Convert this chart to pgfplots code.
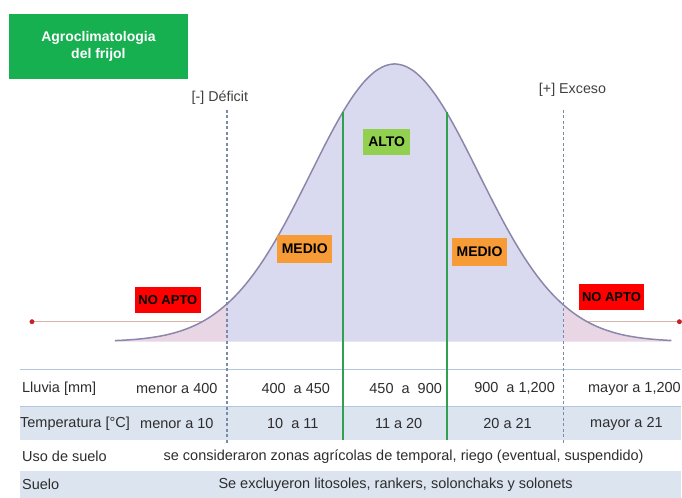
\documentclass[border=0pt]{standalone}
\usepackage{pgfplots}
\pgfplotsset{compat=1.18}
\usepackage{fontspec}
\setmainfont{Liberation Sans}
\definecolor{titlegreen}{RGB}{22,176,80}
\definecolor{midfill}{RGB}{217,217,240}
\definecolor{tailfill}{RGB}{232,214,228}
\definecolor{curvecol}{RGB}{140,135,170}
\definecolor{aptored}{RGB}{255,0,0}
\definecolor{medorange}{RGB}{247,155,55}
\definecolor{altogreen}{RGB}{146,208,80}
\definecolor{vgreen}{RGB}{50,160,80}
\definecolor{dashcol}{RGB}{120,140,170}
\definecolor{rowblue}{RGB}{220,228,240}
\definecolor{rowline}{RGB}{180,198,222}
\definecolor{pinkline}{RGB}{215,180,170}
\definecolor{dotred}{RGB}{200,30,40}
\definecolor{txt}{RGB}{45,45,45}
\begin{document}
\begin{tikzpicture}
\begin{axis}[
  scale only axis, width=682pt, height=498pt,
  xmin=0, xmax=682, ymin=-156, ymax=342,
  axis lines=none, clip=false,
  every node/.append style={text=txt},
]
% invisible frame so that the picture spans the whole area
\addplot[draw=none, mark=none] coordinates {(0,-156) (682,342)};
% table backgrounds
\addplot[draw=none, fill=rowblue] coordinates {(20,-65) (682,-65) (682,-98) (20,-98)} -- cycle;
\addplot[draw=none, fill=rowblue] coordinates {(20,-129) (682,-129) (682,-156) (20,-156)} -- cycle;
\addplot[rowline, line width=1.2pt] coordinates {(20,-28) (682,-28)};
\addplot[rowline, line width=1.2pt] coordinates {(20,-65) (682,-65)};
% horizontal pink lines
\addplot[pinkline, line width=1.4pt] coordinates {(32,20) (205,20)};
\addplot[pinkline, line width=1.4pt] coordinates {(586,20) (680,20)};
\addplot[only marks, mark=*, mark size=2.2pt, dotred] coordinates {(32,20) (680,20)};
% curve fills
\addplot[draw=none, fill=tailfill] coordinates {
(115,1.1) (125,1.6) (135,2.3) (145,3.3) (155,4.7) (165,6.5) (175,9.0) (185,12.2)
(195,16.3) (205,21.5) (215,28.0) (225,35.9) (227,37.6)} \closedcycle;
\addplot[draw=none, fill=midfill] coordinates {
(227,37.6) (235,45.3) (245,56.4) (255,69.3) (265,83.9) (275,100.2) (285,117.9)
(295,136.9) (305,156.6) (315,176.6) (325,196.5) (335,215.4) (345,232.9) (355,248.2)
(365,260.8) (375,270.2) (385,276.0) (395,278.0) (405,276.0) (415,270.2) (425,260.8)
(435,248.2) (445,232.9) (455,215.4) (465,196.5) (475,176.6) (485,156.6) (495,136.9)
(505,117.9) (515,100.2) (525,83.9) (535,69.3) (545,56.4) (555,45.3) (564,36.7)} \closedcycle;
\addplot[draw=none, fill=tailfill] coordinates {
(564,36.7) (575,28.0) (585,21.5) (595,16.3) (605,12.2) (615,9.0) (625,6.5)
(635,4.7) (645,3.3) (655,2.3) (665,1.6) (672,1.2)} \closedcycle;
% curve stroke
\addplot[curvecol, line width=1.5pt, smooth] coordinates {
(115,1.1) (125,1.6) (135,2.3) (145,3.3) (155,4.7) (165,6.5) (175,9.0) (185,12.2)
(195,16.3) (205,21.5) (215,28.0) (225,35.9)
(235,45.3) (245,56.4) (255,69.3) (265,83.9) (275,100.2) (285,117.9)
(295,136.9) (305,156.6) (315,176.6) (325,196.5) (335,215.4) (345,232.9) (355,248.2)
(365,260.8) (375,270.2) (385,276.0) (395,278.0) (405,276.0) (415,270.2) (425,260.8)
(435,248.2) (445,232.9) (455,215.4) (465,196.5) (475,176.6) (485,156.6) (495,136.9)
(505,117.9) (515,100.2) (525,83.9) (535,69.3) (545,56.4) (555,45.3) (565,35.9)
(575,28.0) (585,21.5) (595,16.3) (605,12.2) (615,9.0) (625,6.5)
(635,4.7) (645,3.3) (655,2.3) (665,1.6) (672,1.2)};
% dashed boundaries
\addplot[dashcol, line width=1.5pt, dash pattern=on 3pt off 2.5pt] coordinates {(227,232) (227,-103)};
\addplot[dashcol, line width=1.5pt, dash pattern=on 3pt off 2.5pt] coordinates {(564,232) (564,-103)};
% green boundaries
\addplot[vgreen, line width=2pt] coordinates {(343,229.5) (343,-98)};
\addplot[vgreen, line width=2pt] coordinates {(447,229.5) (447,-98)};
% title box
\node[fill=titlegreen, minimum width=179pt, minimum height=65pt, inner sep=0pt, align=center,
  font=\fontsize{14}{17}\selectfont\bfseries, text=white] at (axis cs:98.5,295.5)
  {Agroclimatologia\\del frijol};
\node[font=\fontsize{14.3}{16}\selectfont, text=black!75] at (axis cs:220,244) {[-] Déficit};
\node[font=\fontsize{14.3}{16}\selectfont, text=black!75] at (axis cs:573,252) {[+] Exceso};
% level labels
\node[fill=aptored, minimum width=66pt, minimum height=26pt, inner sep=0pt,
  font=\fontsize{13}{15}\selectfont\bfseries, text=black] at (axis cs:168,42) {NO APTO};
\node[fill=aptored, minimum width=65pt, minimum height=26pt, inner sep=0pt,
  font=\fontsize{13}{15}\selectfont\bfseries, text=black] at (axis cs:612,45) {NO APTO};
\node[fill=medorange, minimum width=55pt, minimum height=28pt, inner sep=0pt,
  font=\fontsize{14}{16}\selectfont\bfseries, text=black] at (axis cs:305,93) {MEDIO};
\node[fill=medorange, minimum width=55pt, minimum height=28pt, inner sep=0pt,
  font=\fontsize{14}{16}\selectfont\bfseries, text=black] at (axis cs:480,90) {MEDIO};
\node[fill=altogreen, minimum width=47pt, minimum height=26pt, inner sep=0pt,
  font=\fontsize{14}{16}\selectfont\bfseries, text=black] at (axis cs:387,200) {ALTO};
% table text
\begin{scope}[every node/.style={font=\fontsize{14.5}{16}\selectfont, text=txt, inner sep=0pt}]
\node[anchor=west] at (axis cs:22,-47) {Lluvia [mm]};
\node at (axis cs:177,-47) {menor a 400};
\node at (axis cs:296,-47) {400\ \ a 450};
\node at (axis cs:406,-47) {450\ \ a\ \ 900};
\node at (axis cs:515,-47) {900\ \ a 1,200};
\node at (axis cs:635,-47) {mayor a 1,200};
\node[anchor=west] at (axis cs:20,-82) {Temperatura [°C]};
\node at (axis cs:177,-82) {menor a 10};
\node at (axis cs:293,-82) {10\ \ a 11};
\node at (axis cs:399,-82) {11 a 20};
\node at (axis cs:508,-82) {20 a 21};
\node at (axis cs:627,-82) {mayor a 21};
\node[anchor=west] at (axis cs:22,-115) {Uso de suelo};
\node at (axis cs:404,-115) {se consideraron zonas agrícolas de temporal, riego (eventual, suspendido)};
\node[anchor=west] at (axis cs:22,-143) {Suelo};
\node at (axis cs:396,-143) {Se excluyeron litosoles, rankers, solonchaks y solonets};
\end{scope}
\end{axis}
\end{tikzpicture}
\end{document}
